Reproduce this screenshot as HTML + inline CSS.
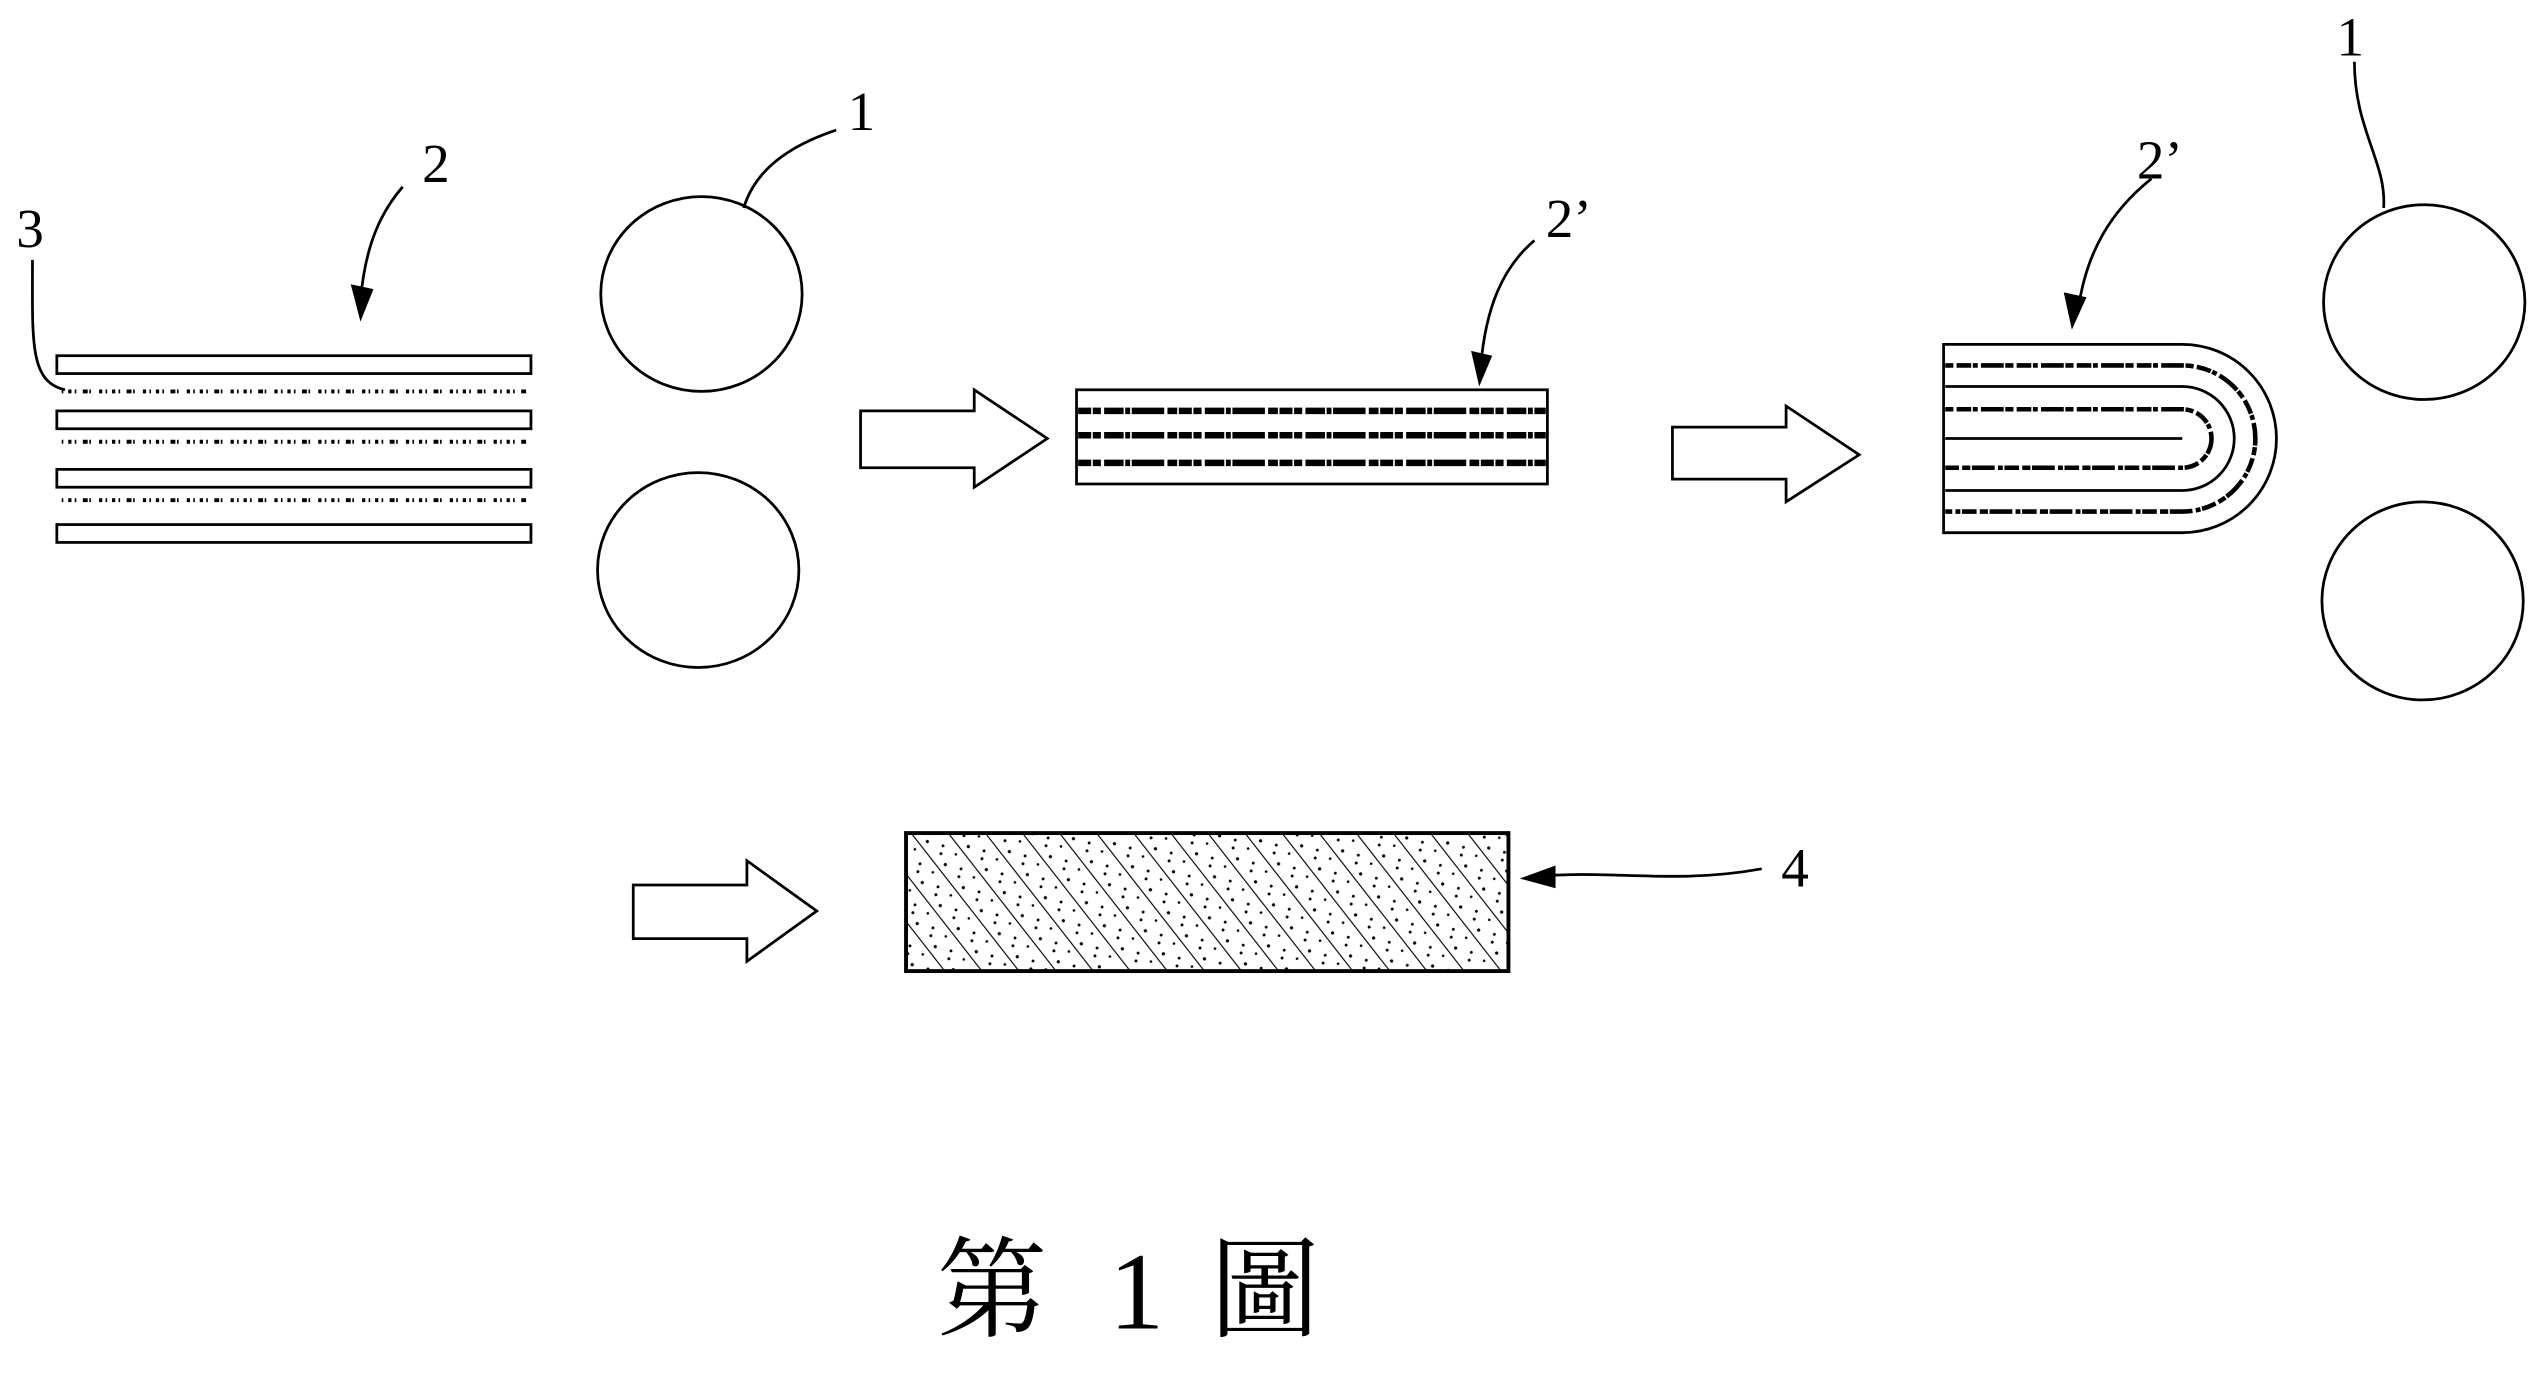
<!DOCTYPE html>
<html><head><meta charset="utf-8"><style>
html,body{margin:0;padding:0;background:#fff;}
svg{display:block;}
text{font-family:"Liberation Serif","Noto Serif CJK SC",serif;fill:#000;}
</style></head><body>
<svg width="2546" height="1382" viewBox="0 0 1568 851" xmlns="http://www.w3.org/2000/svg">
<defs>
<pattern id="hatch" width="18" height="18" patternUnits="userSpaceOnUse" patternTransform="rotate(-38)">
<rect width="18" height="18" fill="#fff"/>
<line x1="0" y1="0" x2="0" y2="18" stroke="#000" stroke-width="1.4"/>
<circle cx="5" cy="4" r="1" fill="#000"/><circle cx="11" cy="12" r="0.9" fill="#000"/>
<circle cx="14" cy="3" r="0.8" fill="#000"/><circle cx="7" cy="15" r="0.9" fill="#000"/>
</pattern>
</defs>
<g fill="none" stroke="#000" stroke-width="1.7">
<rect x="35" y="219" width="292" height="11"/>
<rect x="35" y="253" width="292" height="11"/>
<rect x="35" y="289" width="292" height="11"/>
<rect x="35" y="323" width="292" height="11"/>
<g stroke-width="2.4" stroke-dasharray="1 3 2 2 1 4 3 1 1 5 2 2">
<line x1="38" y1="241" x2="325" y2="241"/>
<line x1="38" y1="272" x2="325" y2="272"/>
<line x1="38" y1="308" x2="325" y2="308"/>
</g>
<path d="M20 160 C20 210 18 235 40 240"/>
<path d="M248 115 C235 130 225 150 222 185"/>
<ellipse cx="432" cy="181" rx="62" ry="60"/>
<ellipse cx="430" cy="351" rx="62" ry="60"/>
<path d="M515 80 C485 90 465 105 458 128"/>
<path d="M530 253 H600 V240 L645 270 L600 300 V288 H530 Z"/>
<rect x="663" y="240" width="290" height="58"/>
<g stroke-width="4" stroke-dasharray="8 1 5 2 12 1 3 1 20 2 6 1">
<line x1="664" y1="253" x2="952" y2="253"/>
<line x1="664" y1="268" x2="952" y2="268"/>
<line x1="664" y1="285" x2="952" y2="285"/>
</g>
<path d="M945 148 C925 165 915 190 912 225"/>
<path d="M1030 263 H1100 V250 L1145 280 L1100 309 V295 H1030 Z"/>
<path d="M1344 212 A58 58 0 0 1 1344 328 H1197 V212 Z"/>
<path d="M1198 238 H1344 A32 32 0 0 1 1344 302 H1198"/>
<line x1="1198" y1="270" x2="1344" y2="270"/>
<g stroke-width="2.8" stroke-dasharray="5 2 9 1 3 2 14 1">
<path d="M1198 225 H1344 A45 45 0 0 1 1344 315 H1198"/>
<path d="M1198 252 H1344 A18 18 0 0 1 1344 288 H1198"/>
</g>
<path d="M1325 110 C1300 130 1285 155 1280 190"/>
<ellipse cx="1493" cy="186" rx="62" ry="60"/>
<ellipse cx="1492" cy="370" rx="62" ry="61"/>
<path d="M1450 38 C1450 80 1470 100 1468 128"/>
<path d="M390 545 H460 V530 L503 561 L460 592 V578 H390 Z"/>
<rect x="558" y="513" width="371" height="85" fill="url(#hatch)" stroke-width="2.4"/>
<path d="M1085 535 C1030 545 990 535 945 540"/>
</g>
<g fill="#000">
<polygon points="222,198 216,175 230,178"/>
<polygon points="911,238 906,216 919,219"/>
<polygon points="1276,203 1271,180 1285,183"/>
<polygon points="936,541 958,533 958,547"/>
</g>
<text x="260" y="112" font-size="34">2</text>
<text x="10" y="152" font-size="34">3</text>
<text x="522" y="80" font-size="34">1</text>
<text x="952" y="146" font-size="34">2’</text>
<text x="1316" y="110" font-size="34">2’</text>
<text x="1439" y="34" font-size="34">1</text>
<text x="1097" y="546" font-size="34">4</text>
<text x="577" y="818" font-size="68">第</text>
<text x="683" y="818" font-size="68">1</text>
<text x="745" y="818" font-size="68">圖</text>
</svg>
</body></html>
